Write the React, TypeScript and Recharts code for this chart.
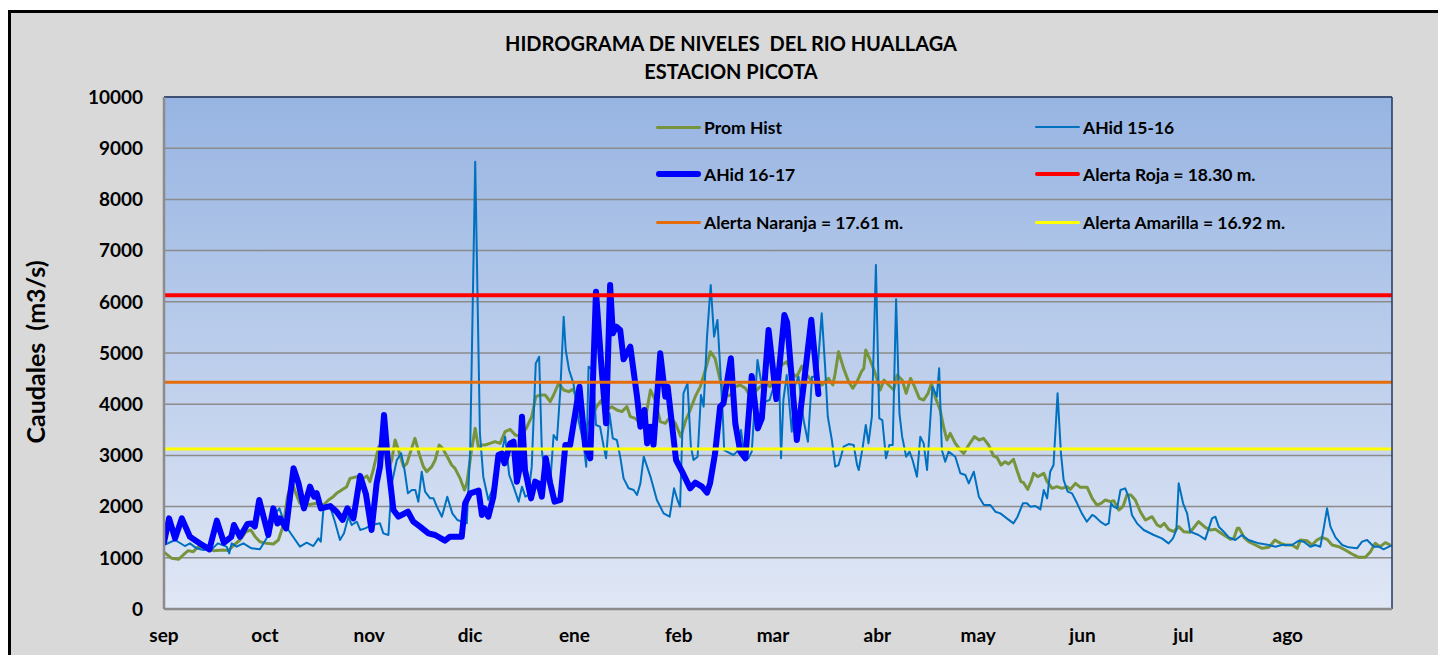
import React from 'react';
import { LineChart, Line, XAxis, YAxis, CartesianGrid, ReferenceLine } from 'recharts';

// Day index from 1 September (0) to 31 August (365)
const monthTicks = [0, 30, 61, 91, 122, 153, 181, 212, 242, 273, 303, 334];
const monthLabels = ['sep', 'oct', 'nov', 'dic', 'ene', 'feb', 'mar', 'abr', 'may', 'jun', 'jul', 'ago'];
const yTicks = [0, 1000, 2000, 3000, 4000, 5000, 6000, 7000, 8000, 9000, 10000];

// [day, caudal m3/s]
const promHist: [number, number][] = [
  [0, 1110], [2.3, 990], [4.3, 970], [5.7, 1055], [7.2, 1140], [8.7, 1120], [10.2, 1217], [12.2, 1205],
  [14.7, 1140], [17.6, 1152], [19.1, 1140], [20.8, 1250], [22.6, 1348], [24.4, 1510], [25.8, 1543],
  [27.1, 1413], [28.5, 1315], [30.5, 1282], [32.5, 1270], [34, 1348], [35.5, 1640], [36.7, 2194],
  [38, 2487], [39, 2292], [40.4, 2064], [42.4, 2031], [45.4, 2064], [47.4, 2031], [48.9, 2129],
  [50.3, 2194], [51.3, 2259], [52.8, 2324], [54.3, 2390], [55.3, 2552], [57.3, 2584], [58.8, 2532],
  [60.3, 2600], [61.2, 2487], [62.2, 2715], [63.8, 3170], [65.2, 3235], [66.7, 2715], [67.7, 2910],
  [68.7, 3301], [69.7, 3105], [71.2, 2780], [72.2, 2845], [73.6, 3138], [74.6, 3333], [75.8, 3040],
  [77.1, 2780], [78.1, 2682], [79.6, 2780], [80.6, 2910], [81.8, 3203], [82.8, 3138], [84.2, 2975],
  [85.5, 2812], [86.5, 2747], [88, 2552], [89.3, 2324], [90, 2454], [91.5, 3138], [92.5, 3528],
  [93.5, 3138], [94.4, 3203], [95.4, 3203], [96.9, 3235], [98.4, 3268], [99.9, 3235], [101.4, 3463],
  [102.9, 3508], [104.4, 3398], [106.3, 3366], [107.9, 3561], [109.3, 3756], [110.5, 4147],
  [111.8, 4180], [113.3, 4180], [114.8, 4049], [115.8, 4180], [117.3, 4407], [118.8, 4277],
  [120.3, 4245], [121.5, 4290], [122.2, 4212], [123.7, 3756], [125.5, 3561], [127.2, 3756],
  [128.6, 3952], [130.1, 4082], [131.5, 3886], [133.1, 3952], [134.6, 3886], [136.1, 3854],
  [137.6, 3952], [138.6, 3756], [140.1, 3724], [141.6, 3626], [143.1, 3724], [144.6, 4277],
  [146, 4082], [147.5, 3659], [149, 3626], [150.5, 3756], [152, 3626], [153.6, 3366], [155.1, 3691],
  [156.4, 3886], [157.9, 4147], [159.4, 4342], [160.9, 4668], [162.4, 5026], [163.8, 4896],
  [165.3, 4472], [166.8, 4147], [168.3, 4180], [169.8, 4342], [171.3, 4375], [172.8, 4310],
  [174.3, 4147], [175.7, 4245], [177.2, 4342], [178.7, 4407], [180.2, 4342], [181.7, 4600],
  [183.6, 4765], [185.1, 4830], [186.6, 4603], [188.1, 4537], [189.6, 4746], [191.1, 4570],
  [192.6, 4440], [194.1, 4407], [195.6, 4375], [196.5, 4440], [197.5, 4505], [198.8, 4375],
  [199.5, 4603], [200.5, 5026], [202, 4700], [203.5, 4440], [204.7, 4310], [206, 4440], [207.3, 4635],
  [208, 4700], [208.6, 5058], [209.9, 4863], [211.4, 4603], [212.9, 4277], [214, 4472], [215.4, 4375],
  [216.9, 4277], [217.9, 4570], [219.4, 4472], [220.6, 4212], [221.9, 4505], [223.1, 4342],
  [224.5, 4114], [225.8, 4082], [227.1, 4212], [228.1, 4407], [229.2, 4147], [230.7, 3886],
  [231.7, 3561], [232.7, 3301], [233.7, 3431], [235.2, 3235], [236.7, 3105], [237.7, 3040],
  [239.2, 3203], [240.9, 3366], [242.3, 3301], [243.6, 3333], [245.1, 3203], [246.6, 2988],
  [247.6, 2962], [248.8, 2812], [250, 2877], [251, 2832], [252.5, 2923], [253.5, 2715], [254.7, 2487],
  [255.5, 2467], [256.7, 2337], [257.7, 2487], [258.5, 2650], [259.7, 2584], [261.5, 2650],
  [262.5, 2487], [264, 2357], [265.4, 2389], [266.9, 2357], [268.4, 2389], [269.4, 2337],
  [270.9, 2454], [272.4, 2376], [274.4, 2376], [275.9, 2161], [277.3, 2031], [278.5, 2064],
  [279.8, 2129], [281.3, 2096], [282.3, 2116], [283.8, 1933], [285.1, 2011], [286.2, 2226],
  [287.4, 2226], [288.7, 2129], [290.2, 1900], [291.7, 1738], [292.7, 1771], [293.7, 1803],
  [295.2, 1641], [296.2, 1608], [297.3, 1673], [298.6, 1556], [300.1, 1510], [301.6, 1608],
  [303.1, 1510], [305, 1500], [307.5, 1706], [309.5, 1595], [311, 1543], [312.5, 1556], [314, 1491],
  [315.5, 1426], [317, 1360], [318, 1380], [319, 1575], [319.6, 1575], [321, 1400], [322.4, 1315],
  [324.4, 1250], [326.4, 1185], [328.4, 1204], [330.2, 1348], [331.9, 1282], [333.3, 1250],
  [335.3, 1250], [336.8, 1185], [337.8, 1348], [339.7, 1335], [341.2, 1250], [342.7, 1348],
  [344.2, 1400], [345.7, 1360], [347.2, 1250], [349.2, 1217], [351.1, 1152], [353.1, 1074],
  [355.1, 1009], [357.1, 1009], [358.6, 1120], [360, 1282], [361.5, 1217], [363, 1295], [364.5, 1250],
];

const ahid1516: [number, number][] = [
  [0, 1250], [3.3, 1348], [6.2, 1230], [7.7, 1282], [9.7, 1185], [11.7, 1152], [14.2, 1165], [16, 1282],
  [18.6, 1217], [19.4, 1087], [20.1, 1282], [21.6, 1217], [23.6, 1282], [26, 1185], [28.5, 1165],
  [30.5, 1380], [32, 1770], [34.3, 1966], [36, 1640], [38, 1445], [40.4, 1217], [42.4, 1295],
  [44.4, 1230], [45.9, 1380], [46.6, 1315], [47.4, 1966], [49.4, 2000], [50.8, 1705], [52.3, 1348],
  [53.5, 1478], [54.8, 1803], [55.8, 1640], [57.3, 1705], [58.3, 1543], [59.8, 1575], [61.7, 1640],
  [64.2, 1673], [65.2, 1478], [66.7, 1445], [67.7, 2454], [69.2, 2910], [70.5, 3040], [71.5, 2715],
  [72.5, 2259], [73.7, 2324], [74.7, 2324], [75.6, 2096], [76.6, 2682], [77.6, 2292], [79.1, 2161],
  [80.1, 2161], [81.1, 1999], [82.6, 1803], [84.2, 2194], [85.7, 1868], [87.2, 1738], [88.5, 1706],
  [90, 1673], [91, 3105], [91.7, 5709], [92.5, 8736], [93.3, 5709], [93.9, 3431], [94.9, 2584],
  [96.4, 2129], [97.9, 2389], [99.4, 2780], [101.4, 3366], [102.6, 2617], [103.9, 2389], [105.4, 2096],
  [106.4, 2389], [107.4, 2194], [108.3, 2226], [109.3, 2780], [110.5, 4798], [111.5, 4928],
  [112.3, 3105], [113.3, 2584], [114.8, 2454], [115.8, 3398], [116.8, 3301], [117.8, 4277],
  [118.8, 5709], [119.4, 5058], [120.4, 4668], [121.7, 4407], [123.2, 3691], [124.7, 3235],
  [125.5, 2780], [126.2, 4733], [127.5, 4668], [128.4, 3594], [129.6, 3561], [130.6, 3203],
  [131.4, 2943], [132.4, 3821], [133.4, 3333], [134.6, 3301], [135.6, 2975], [136.6, 2552],
  [138.1, 2357], [139.6, 2324], [140.6, 2226], [141.6, 2454], [142.6, 2975], [144.6, 2584],
  [146.5, 2129], [148.5, 1868], [150.3, 1803], [151.6, 2357], [152.6, 2129], [153.4, 1999],
  [154.4, 4212], [155.6, 4407], [156.6, 3170], [157.4, 2910], [158.6, 2975], [159.6, 4180],
  [160.4, 3952], [161.4, 5319], [162.5, 6328], [163.5, 5319], [164.5, 5644], [165.3, 4733],
  [166.1, 3756], [166.5, 3105], [167.3, 3073], [169.3, 3008], [170.3, 3073], [171.5, 3496],
  [172.5, 3008], [173.7, 2943], [174.7, 3073], [176.4, 4863], [177.4, 4472], [178.7, 4049],
  [180, 4082], [181.2, 4342], [182.3, 4700], [182.9, 4407], [183.4, 2943], [184.1, 4082],
  [185.1, 4570], [186.6, 3463], [187.6, 4375], [188.6, 4537], [190.1, 3691], [191.4, 3268],
  [192.6, 4537], [194.1, 4537], [195.5, 5774], [196.5, 4733], [197.3, 3756], [198.5, 3301],
  [199.5, 2780], [200.5, 2812], [202, 3170], [203.5, 3222], [205, 3203], [206, 2812], [206.5, 2715],
  [207.7, 3170], [208.6, 3594], [209.4, 3235], [210.4, 3756], [211.6, 6718], [212.6, 3724],
  [213.5, 3691], [214.6, 2943], [215.6, 3203], [216.6, 3203], [217.6, 6048], [218.6, 3821],
  [219.4, 3366], [220.6, 2975], [221.6, 3073], [222.5, 2910], [223.8, 2584], [224.8, 3366],
  [225.8, 3235], [226.8, 2715], [228.4, 4342], [229.7, 4147], [230.4, 4700], [231.2, 3105],
  [232.2, 2877], [233.2, 3073], [235.2, 2975], [236.7, 2650], [238.2, 2617], [239.2, 2454],
  [240.7, 2682], [242.2, 2194], [243.7, 2031], [245.6, 2031], [247.1, 1900], [248.6, 1868],
  [250.5, 1770], [252.5, 1673], [253.7, 1803], [255.3, 2064], [256.5, 2064], [257.5, 1999],
  [259, 2011], [260.5, 1946], [261.5, 2324], [262.5, 2161], [263.4, 2682], [264.4, 2812],
  [265.6, 4212], [266.6, 3040], [267.4, 2519], [268.6, 2292], [269.9, 2259], [271.4, 2064],
  [272.8, 1868], [274.3, 1706], [275.9, 1836], [276.8, 1803], [278.3, 1706], [279.8, 1641],
  [280.8, 1673], [281.5, 2064], [282.3, 1999], [283.3, 1966], [284.3, 2324], [285.7, 2357],
  [286.7, 2194], [287.7, 1836], [289.2, 1673], [291.2, 1543], [294.2, 1445], [296.6, 1380],
  [298.6, 1282], [299.9, 1380], [300.9, 1543], [301.6, 2454], [302.9, 2064], [304.1, 1868],
  [305, 1510], [307.5, 1445], [309.5, 1360], [311.5, 1771], [312.5, 1803], [313.5, 1608], [315, 1510],
  [316.5, 1400], [318.4, 1348], [320.4, 1445], [322.4, 1348], [325.4, 1282], [328.4, 1250],
  [330.4, 1217], [332.3, 1250], [335.3, 1250], [337.3, 1335], [338.8, 1315], [340.7, 1217],
  [342.2, 1250], [343.7, 1217], [344.7, 1575], [345.7, 1966], [346.7, 1608], [348.2, 1400],
  [350.2, 1250], [352.1, 1204], [354.6, 1185], [356.1, 1315], [357.6, 1348], [359.6, 1217],
  [361.1, 1217], [362.5, 1165], [364.1, 1217], [365, 1250],
];

const ahid1617: [number, number][] = [
  [0, 1300], [1.5, 1770], [3.3, 1380], [5.3, 1770], [7.7, 1410], [10.7, 1280], [13.5, 1165],
  [15.7, 1725], [17.8, 1295], [20, 1410], [20.8, 1640], [22.6, 1410], [24.8, 1660], [26, 1670],
  [27, 1610], [28.3, 2130], [31, 1445], [32.5, 1966], [33.7, 1670], [34.5, 1770], [36.3, 1575],
  [38.5, 2750], [40, 2450], [41.6, 1966], [43.4, 2390], [44.6, 2194], [45.4, 2260], [46.6, 1966],
  [49.4, 2010], [51.3, 1900], [53.1, 1740], [54.5, 1966], [56.3, 1770], [58.3, 2600], [60, 2250],
  [61.7, 1543], [63.2, 2454], [64.2, 2780], [65.4, 3790], [66.7, 2780], [68.2, 1933], [69.7, 1803],
  [72.5, 1900], [74.1, 1706], [76.1, 1608], [78.6, 1478], [80.6, 1445], [83.5, 1335], [85, 1413],
  [88.5, 1413], [89.5, 2064], [91, 2259], [93.5, 2311], [94.5, 1836], [95.2, 1966], [96.4, 1803],
  [97.9, 2194], [99.4, 3008], [100.4, 3040], [101.2, 2845], [102.9, 3235], [103.9, 3268],
  [104.9, 2487], [105.6, 2715], [106.4, 3756], [107.3, 2715], [109.1, 2161], [110.3, 2487],
  [111.3, 2454], [112.3, 2194], [113.5, 2943], [114.8, 2454], [116.1, 2096], [117.8, 2129],
  [119.3, 3203], [120.7, 3200], [123.5, 4342], [125.2, 3170], [126.7, 2943], [128.4, 6198],
  [130.1, 4668], [131.4, 3626], [132.6, 6328], [133.4, 5384], [134.4, 5514], [135.6, 5449],
  [136.6, 4876], [138.6, 5123], [140.6, 4147], [141.6, 3561], [142.8, 3886], [143.6, 3235],
  [144.6, 3561], [145.5, 3203], [147.5, 4993], [149, 4147], [149.7, 4342], [152.2, 2910], [154, 2682],
  [156.4, 2357], [157.9, 2467], [159.9, 2389], [161.4, 2272], [162.3, 2454], [163.8, 3040],
  [165.3, 3952], [166.3, 4017], [168.5, 4896], [169.8, 3626], [171.3, 3073], [172.8, 2943],
  [174.7, 4551], [176.5, 3528], [177.7, 3724], [179.7, 5449], [182, 4100], [184.4, 5742],
  [185.2, 5600], [188.1, 3300], [190, 4300], [192.4, 5650], [194.5, 4200],
];

const alertaRoja = 6130;
const alertaNaranja = 4430;
const alertaAmarilla = 3125;

const legendItems = [
  { label: 'Prom Hist', color: '#77933c', width: 3 },
  { label: 'AHid 15-16', color: '#0070c0', width: 2 },
  { label: 'AHid 16-17', color: '#0000ff', width: 6 },
  { label: 'Alerta Roja = 18.30 m.', color: '#ff0000', width: 4 },
  { label: 'Alerta Naranja = 17.61 m.', color: '#e46c0a', width: 3 },
  { label: 'Alerta Amarilla = 16.92 m.', color: '#ffff00', width: 3 },
];

const toRows = (s: [number, number][]) => s.map(([d, v]) => ({ d, v }));

const FONT = 'Lato, "Noto Sans", sans-serif';

export default function App() {
  const tickStyle = { fill: '#000', fontSize: 19, fontWeight: 700, fontFamily: FONT };
  return (
    <div style={{ position: 'fixed', left: 8, top: 8, width: 1430, height: 647, overflow: 'hidden', background: '#fff' }}>
      <style>{'html, body { margin: 0; padding: 0; overflow: hidden; background: #fff; }'}</style>
      <svg width={0} height={0} style={{ position: 'absolute' }}>
        <defs>
          <linearGradient id="plotBg" x1="0" y1="0" x2="0" y2="1">
            <stop offset="0%" stopColor="#97b4e2" />
            <stop offset="100%" stopColor="#e0e7f5" />
          </linearGradient>
        </defs>
      </svg>
      <div
        style={{
          position: 'absolute', left: 0, top: 2, right: 0, bottom: 0,
          borderTop: '3px solid #000', borderLeft: '3px solid #000', background: '#d9d9d9',
        }}
      />
      <div
        style={{
          position: 'absolute', left: 0, width: 1446, top: 21, textAlign: 'center',
          fontFamily: FONT, fontWeight: 700, fontSize: 20, lineHeight: '28px', color: '#000', whiteSpace: 'pre',
        }}
      >
        {'HIDROGRAMA DE NIVELES  DEL RIO HUALLAGA\nESTACION PICOTA'}
      </div>
      <div style={{ position: 'absolute', left: 27, top: 344, width: 0, height: 0 }}>
        <div
          style={{
            position: 'absolute', left: 0, top: 0, transform: 'translate(-50%, -50%) rotate(-90deg)',
            fontFamily: FONT, fontWeight: 700, fontSize: 25, color: '#000', whiteSpace: 'pre',
          }}
        >
          {'Caudales  (m3/s)'}
        </div>
      </div>
      <div style={{ position: 'absolute', left: 0, top: 0 }}>
        <LineChart width={1430} height={647} margin={{ top: 89, right: 46, bottom: 6, left: 0 }}>
          <CartesianGrid vertical={false} stroke="#8c8c8c" strokeWidth={1.5} fill="url(#plotBg)" fillOpacity={1} />
          <XAxis
            dataKey="d"
            type="number"
            domain={[0, 365]}
            ticks={monthTicks}
            tickFormatter={(v: number) => monthLabels[monthTicks.indexOf(v)] ?? ''}
            interval={0}
            height={40}
            tickLine={false}
            tickSize={0}
            tickMargin={20}
            axisLine={{ stroke: '#8c8c8c', strokeWidth: 2.5 }}
            tick={tickStyle}
            allowDataOverflow
          />
          <YAxis
            type="number"
            domain={[0, 10000]}
            ticks={yTicks}
            interval={0}
            width={156}
            tickLine={false}
            tickSize={0}
            tickMargin={21}
            axisLine={{ stroke: '#8c8c8c', strokeWidth: 2.5 }}
            tick={tickStyle}
          />
          <Line data={toRows(promHist)} dataKey="v" type="linear" stroke="#77933c" strokeWidth={3}
            dot={false} isAnimationActive={false} strokeLinejoin="round" />
          <Line data={toRows(ahid1516)} dataKey="v" type="linear" stroke="#0070c0" strokeWidth={2}
            dot={false} isAnimationActive={false} strokeLinejoin="round" />
          <Line data={toRows(ahid1617)} dataKey="v" type="linear" stroke="#0000ff" strokeWidth={6}
            dot={false} isAnimationActive={false} strokeLinejoin="round" strokeLinecap="round" />
          <ReferenceLine y={alertaRoja} stroke="#ff0000" strokeWidth={4} />
          <ReferenceLine y={alertaNaranja} stroke="#e46c0a" strokeWidth={3} />
          <ReferenceLine y={alertaAmarilla} stroke="#ffff00" strokeWidth={3} />
          <ReferenceLine y={10000} stroke="#1f3864" strokeWidth={1.5} />
          <ReferenceLine x={365} stroke="#1f3864" strokeWidth={1.5} />
        </LineChart>
      </div>
      {legendItems.map((it, i) => {
        const col = i % 2;
        const row = Math.floor(i / 2);
        const left = col === 0 ? 648 : 1027;
        const top = [109, 156, 204][row];
        return (
          <div key={it.label} style={{ position: 'absolute', left, top, height: 20, display: 'flex', alignItems: 'center' }}>
            <div style={{ width: 45, height: it.width, background: it.color, borderRadius: it.width / 2 }} />
            <span style={{ marginLeft: 3, fontFamily: FONT, fontWeight: 700, fontSize: 17.5, color: '#000', whiteSpace: 'pre' }}>
              {it.label}
            </span>
          </div>
        );
      })}
    </div>
  );
}
